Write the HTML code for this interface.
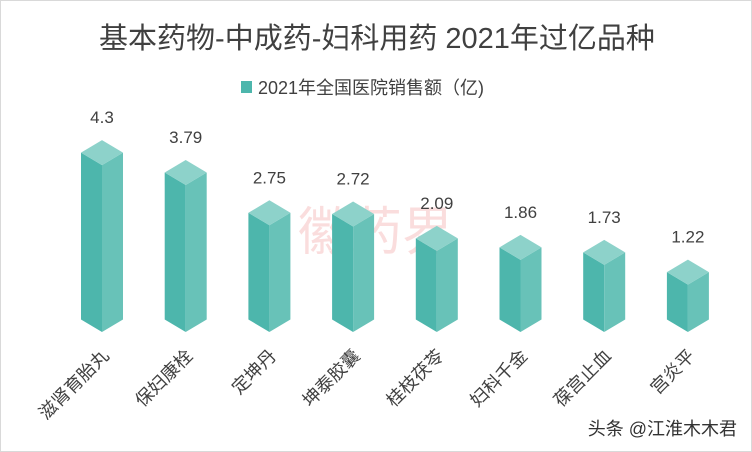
<!DOCTYPE html>
<html><head><meta charset="utf-8"><style>
body{margin:0;background:#fff}
svg{display:block;font-family:"Liberation Sans","Noto Sans CJK SC",sans-serif}
</style></head><body>
<svg width="752" height="452" viewBox="0 0 752 452">
<rect x="0.5" y="0.5" width="751" height="451" fill="#fff" stroke="#d9d9d9"/>
<text x="377" y="48" text-anchor="middle" font-size="29" fill="#404040">基本药物-中成药-妇科用药 2021年过亿品种</text>
<g>
<rect x="241" y="81" width="11" height="12" fill="#4db6ac"/>
<text x="258" y="94" font-size="18" fill="#404040">2021年全国医院销售额（亿)</text>
</g>
<text x="376" y="250" text-anchor="middle" font-size="52" fill="#f8d0d0" opacity="0.7">徽药界</text>
<g id="bars"></g>
<text x="737" y="435" text-anchor="end" font-size="18" fill="#333">头条 @江淮木木君</text>
</svg>
<script>
const categories=["滋肾育胎丸","保妇康栓","定坤丹","坤泰胶囊","桂枝茯苓","妇科千金","葆宫止血","宫炎平"];
const values=[4.3,3.79,2.75,2.72,2.09,1.86,1.73,1.22];
const labels=["4.3","3.79","2.75","2.72","2.09","1.86","1.73","1.22"];
const NS="http://www.w3.org/2000/svg";
const g=document.getElementById('bars');
const x0=102, step=83.7, base=332, scale=38.8, hw=21, dy=12.5;
function xPos(i){return x0+i*step;}
function yPos(v){return base-v*scale;}
function mk(tag,attrs){const e=document.createElementNS(NS,tag);for(const k in attrs)e.setAttribute(k,attrs[k]);g.appendChild(e);return e;}
values.forEach((v,i)=>{
  const cx=xPos(i), yt=yPos(v);
  const l=mk('polygon',{points:`${cx-hw},${yt-dy} ${cx},${yt} ${cx},${base} ${cx-hw},${base-dy}`,fill:'#4db6ac'});
  
  
  const r=mk('polygon',{points:`${cx},${yt} ${cx+hw},${yt-dy} ${cx+hw},${base-dy} ${cx},${base}`,fill:'#68c2b8'});
  
  
  const t=mk('polygon',{points:`${cx-hw},${yt-dy} ${cx},${yt-2*dy} ${cx+hw},${yt-dy} ${cx},${yt}`,fill:'#8dd2ca'});
  
  
  const vl=mk('text',{x:cx,y:yt-2*dy-17,'text-anchor':'middle','font-size':'17',fill:'#404040'});
  vl.textContent=labels[i];
  
  
  const cl=mk('text',{x:cx+8,y:357,'text-anchor':'end','font-size':'18',fill:'#404040',transform:`rotate(-45 ${cx+8} 357)`});
  cl.textContent=categories[i];
  
  
});
</script>
</body></html>
